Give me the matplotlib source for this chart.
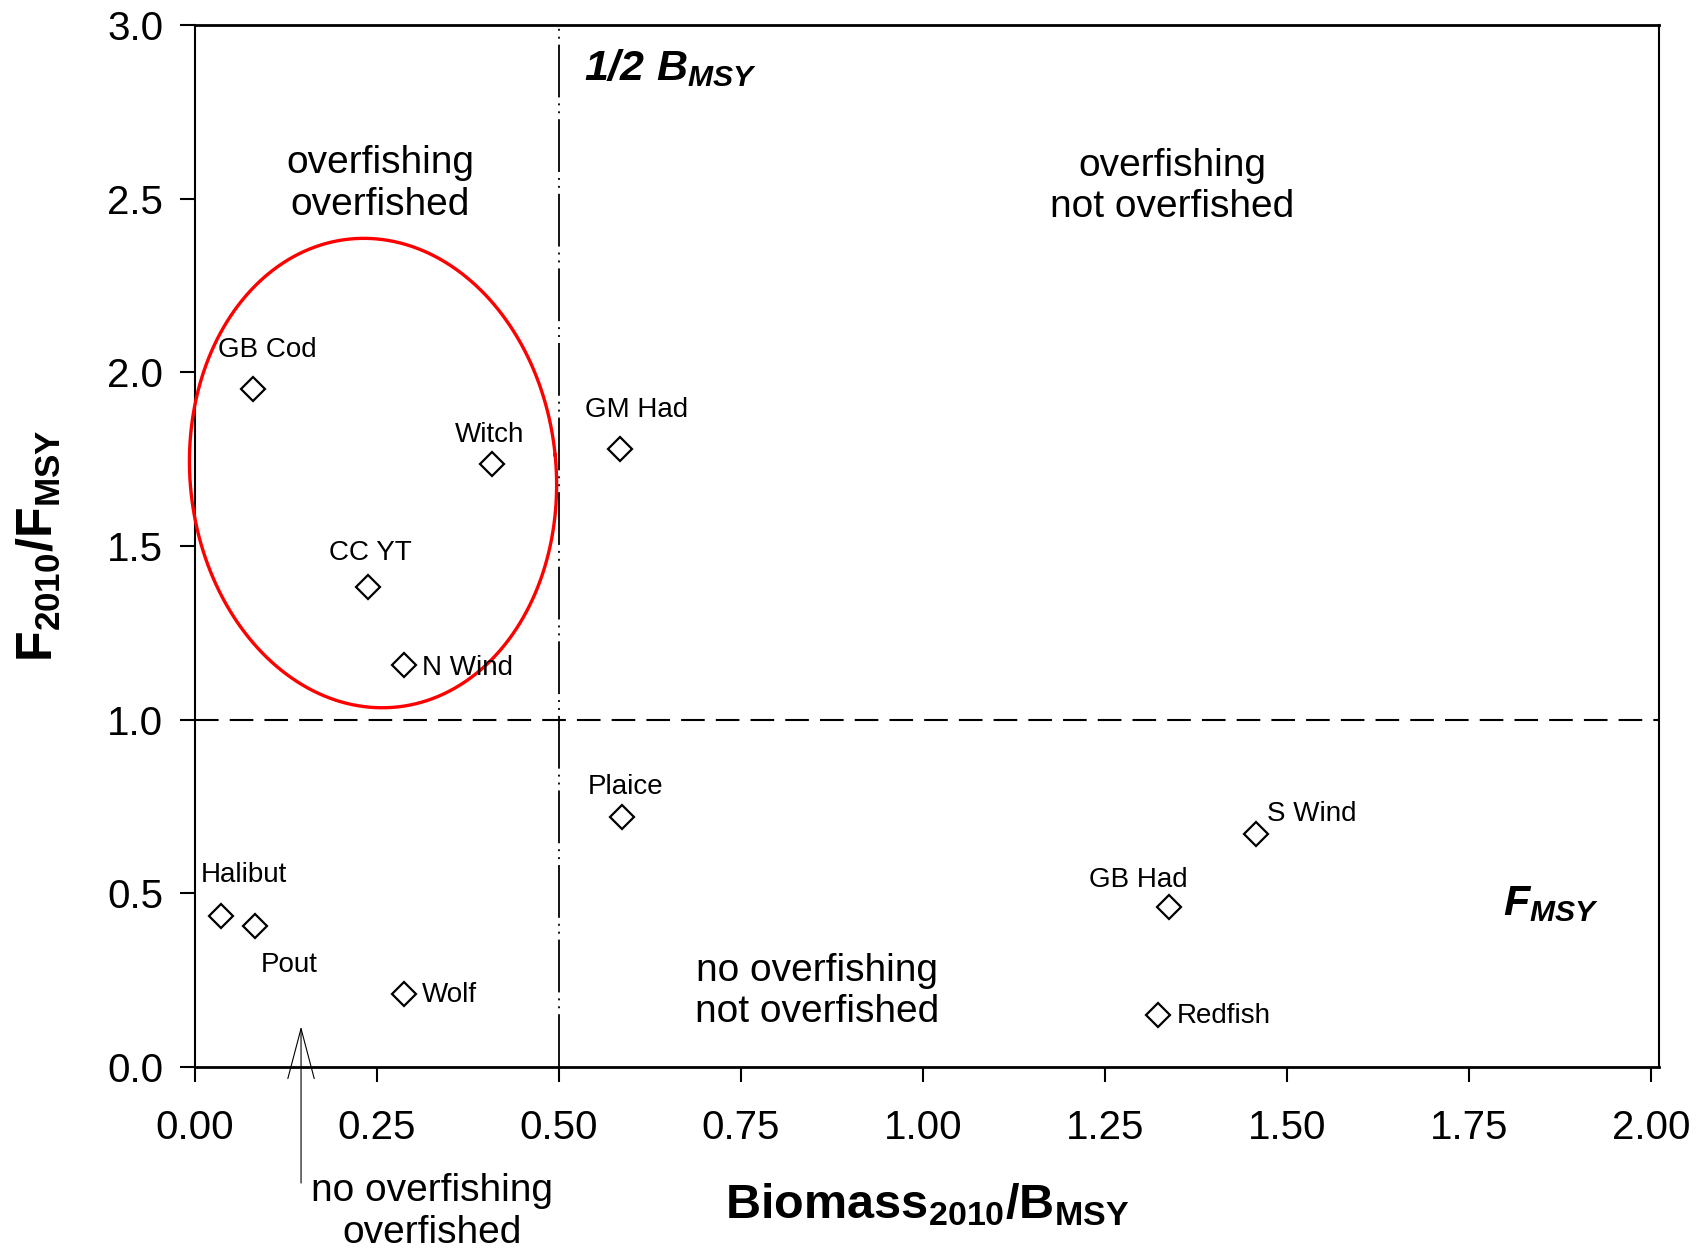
import matplotlib
matplotlib.use('Agg')
import matplotlib.pyplot as plt
import numpy as np
from matplotlib.patches import ArrowStyle

plt.rcParams['font.family'] = 'Liberation Sans'
plt.rcParams['mathtext.fontset'] = 'custom'
plt.rcParams['mathtext.rm'] = 'Liberation Sans:italic:bold'
plt.rcParams['mathtext.bf'] = 'Liberation Sans:bold'
plt.rcParams['mathtext.it'] = 'Liberation Sans:italic:bold'
plt.rcParams['lines.scale_dashes'] = False

# stock status, 2010
stocks = ['GB Cod', 'Witch', 'CC YT', 'N Wind', 'GM Had', 'Plaice',
          'S Wind', 'GB Had', 'Redfish', 'Halibut', 'Pout', 'Wolf']
biomass = [0.080, 0.408, 0.238, 0.287, 0.584, 0.587,
           1.457, 1.338, 1.323, 0.035, 0.082, 0.287]
fishing = [1.952, 1.737, 1.381, 1.156, 1.780, 0.720,
           0.670, 0.461, 0.149, 0.436, 0.405, 0.211]

# label offsets (points) and alignment for each stock
label_offsets = [(10, 28, 'center'), (-1.5, 21, 'center'), (1.5, 25, 'center'),
                 (13, -1.5, 'left'), (11.5, 28, 'center'), (2, 21.5, 'center'),
                 (8.5, 14.5, 'left'), (-22, 19.5, 'center'), (13.5, -0.7, 'left'),
                 (17, 29, 'center'), (24.5, -27.5, 'center'), (13, -0.7, 'left')]

xticks = np.arange(0, 2.01, 0.25)
yticks = np.arange(0, 3.01, 0.5)

fig = plt.figure(figsize=(17.02, 12.48), dpi=100)
ax = fig.add_axes([0.1146, 0.1450, 0.8601, 0.8350])
ax.set_xlim(0, 2.011)
ax.set_ylim(0, 3.0)

for side in ['left', 'right']:
    ax.spines[side].set_linewidth(1.5)
for side in ['top', 'bottom']:
    ax.spines[side].set_linewidth(2.0)

ax.set_xticks(xticks)
ax.set_xticklabels(['%.2f' % v for v in xticks])
ax.set_yticks(yticks)
ax.set_yticklabels(['%.1f' % v for v in yticks])
ax.tick_params(direction='out', length=11, width=1.5, labelsize=29)
ax.tick_params(axis='x', pad=19)
ax.tick_params(axis='y', pad=12)

# reference lines
ax.axhline(1.0, color='black', lw=1.5, dashes=(17, 8))
ax.axvline(0.5, color='black', lw=1.3, dashes=(38, 4.3, 1.4, 4.3, 1.4, 4.3))

ax.plot(biomass, fishing, linestyle='none', marker='D', markersize=12,
        markerfacecolor='white', markeredgecolor='black', markeredgewidth=1.6,
        zorder=5)

for name, x, y, (dx, dy, ha) in zip(stocks, biomass, fishing, label_offsets):
    ax.annotate(name, (x, y), xytext=(dx, dy), textcoords='offset points',
                ha=ha, va='center', fontsize=20, zorder=6)

# quadrant labels
ax.text(0.254, 2.542, 'overfishing\noverfished', ha='center', va='center',
        fontsize=28, linespacing=1.2)
ax.text(1.342, 2.535, 'overfishing\nnot overfished', ha='center', va='center',
        fontsize=28, linespacing=1.2)
ax.text(0.855, 0.2175, 'no overfishing\nnot overfished', ha='center', va='center',
        fontsize=28, linespacing=1.2)
ax.text(0.3256, -0.418, 'no overfishing\noverfished', ha='center', va='center',
        fontsize=28, linespacing=1.2, clip_on=False)

ax.text(0.534, 2.875, r'$1/2\ B_{MSY}$', ha='left', va='center', fontsize=31)
ax.text(1.797, 0.47, r'$F_{MSY}$', ha='left', va='center', fontsize=31)

ax.annotate('', xy=(0.1456, 0.117), xytext=(0.1456, -0.334),
            arrowprops=dict(arrowstyle=ArrowStyle('->', head_length=3.6, head_width=0.95),
                            color='black', lw=0.8, shrinkA=0, shrinkB=0),
            annotation_clip=False)

# red ellipse around the overfished / overfishing group
ell_center = (0.2445, 1.710)
ell_half_w = 0.2514
ell_half_h = 0.677
ell_tilt = 5.7
c_px = ax.transData.transform(ell_center)
edge_px = ax.transData.transform((ell_center[0] + ell_half_w, ell_center[1] + ell_half_h))
a_px = edge_px[0] - c_px[0]
b_px = edge_px[1] - c_px[1]
t = np.linspace(0, 2 * np.pi, 400)
th = np.deg2rad(ell_tilt)
u = a_px * np.cos(t)
v = b_px * np.sin(t)
px = c_px[0] + u * np.cos(th) - v * np.sin(th)
py = c_px[1] + u * np.sin(th) + v * np.cos(th)
ell = ax.transData.inverted().transform(np.column_stack([px, py]))
ax.plot(ell[:, 0], ell[:, 1], color='#ff0000', lw=2.4, zorder=4, clip_on=False)

ax.set_xlabel(r'$\mathbf{Biomass_{2010}/B_{MSY}}$', fontsize=35)
ax.set_ylabel(r'$\mathbf{F_{2010}/F_{MSY}}$', fontsize=36)
ax.xaxis.set_label_coords(0.5, -0.110)
ax.yaxis.set_label_coords(-0.090, 0.5)

fig.savefig('out.png', dpi=100)
